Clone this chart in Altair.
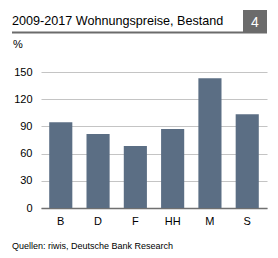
import altair as alt
import pandas as pd

cities = ["B", "D", "F", "HH", "M", "S"]
values = [94.5, 81.5, 68.5, 87, 143, 103.5]
y_ticks = [0, 30, 60, 90, 120, 150]
title_text = "2009-2017 Wohnungspreise, Bestand"
chart_no = "4"
unit = "%"
source_text = "Quellen: riwis, Deutsche Bank Research"

df = pd.DataFrame({"city": cities, "value": values})
FONT = "Liberation Sans"

bars = alt.Chart(df).mark_bar(color="#5b6e84").encode(
    x=alt.X("city:N", sort=cities,
            scale=alt.Scale(paddingInner=0.38, paddingOuter=0.22),
            axis=alt.Axis(title=None, labelAngle=0, ticks=False, domain=True,
                          domainColor="#707070", domainWidth=1.5, labelPadding=7,
                          labelFont=FONT, labelFontSize=11, labelColor="#000000",
                          grid=False)),
    y=alt.Y("value:Q", scale=alt.Scale(domain=[0, 150], nice=False),
            axis=alt.Axis(title=None, values=y_ticks, ticks=False, domain=False,
                          labelPadding=9, labelFont=FONT, labelFontSize=11,
                          labelColor="#000000", gridColor="#c4c4c4", gridWidth=1.2)),
)

one = pd.DataFrame({"a": [0]})

title = alt.Chart(one).mark_text(align="left", baseline="alphabetic", font=FONT,
                                 fontSize=12.6, color="#000000").encode(
    x=alt.value(-29), y=alt.value(-47), text=alt.value(title_text))

box = alt.Chart(one).mark_rect(color="#6b6b6b").encode(
    x=alt.value(202), x2=alt.value(226), y=alt.value(-62), y2=alt.value(-39))

num = alt.Chart(one).mark_text(align="center", baseline="alphabetic", font=FONT,
                               fontSize=14, color="#ffffff").encode(
    x=alt.value(214), y=alt.value(-45), text=alt.value(chart_no))

line = alt.Chart(one).mark_rule(color="#6b6b6b", strokeWidth=2).encode(
    x=alt.value(-29), x2=alt.value(226), y=alt.value(-39.5))

pct = alt.Chart(one).mark_text(align="left", baseline="alphabetic", font=FONT,
                               fontSize=11, color="#000000").encode(
    x=alt.value(-28), y=alt.value(-24), text=alt.value(unit))

src = alt.Chart(one).mark_text(align="left", baseline="alphabetic", font=FONT,
                               fontSize=9, color="#000000").encode(
    x=alt.value(-29), y=alt.value(177), text=alt.value(source_text))

chart = alt.layer(bars, line, box, title, num, pct, src).properties(
    width=226, height=136,
    autosize=alt.AutoSizeParams(type="none"),
    padding={"left": 41, "top": 72, "right": 11, "bottom": 50},
    background="#ffffff",
).configure_view(stroke=None)

chart.save("out.html", embed_options={"renderer": "svg", "actions": False})
